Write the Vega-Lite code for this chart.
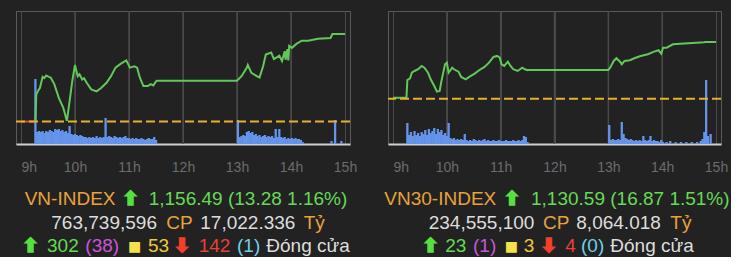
{
"$schema": "https://vega.github.io/schema/vega-lite/v6.json",
"background": "#222222",
"padding": {"left": 14, "top": 10, "right": 0, "bottom": 0},
"bounds": "flush",
"spacing": 38,
"config": {
 "view": {"stroke": "#5a5a5a", "strokeWidth": 1},
 "axisX": {"grid": true, "gridColor": "#4a4a4a", "gridWidth": 1, "ticks": false, "tickSize": 0, "domainColor": "#d0d0d0", "domainWidth": 2, "labelColor": "#6c6c6c", "labelFont": "Liberation Sans", "labelFontSize": 14, "labelPadding": 27, "labelBaseline": "alphabetic"},
 "style": {
  "seg": {"align": "left", "baseline": "alphabetic", "font": "Liberation Sans", "fontSize": 19},
  "arr": {"align": "left", "baseline": "alphabetic", "font": "DejaVu Sans", "fontSize": 19, "fontWeight": "bold", "strokeWidth": 1.6},
  "sq": {"align": "left", "baseline": "alphabetic", "font": "DejaVu Sans", "fontSize": 14}
 }
},
"datasets": {
 "hours": [{"m":60},{"m":120},{"m":180},{"m":240},{"m":300}],
 "vn": [
  {"m":0,"p":1143.21,"seg":"pre"},{"m":16,"p":1143.21,"seg":"pre"},
  {"m":16,"p":1143.3,"seg":"main"},{"m":17,"p":1147.3,"seg":"main"},{"m":19,"p":1147.9,"seg":"main"},{"m":21,"p":1148.3,"seg":"main"},{"m":24,"p":1150.0,"seg":"main"},{"m":26,"p":1149.8,"seg":"main"},{"m":28,"p":1150.2,"seg":"main"},{"m":31,"p":1150.0,"seg":"main"},{"m":33,"p":1149.9,"seg":"main"},{"m":37,"p":1148.9,"seg":"main"},{"m":42,"p":1146.8,"seg":"main"},{"m":47,"p":1145.3,"seg":"main"},{"m":51,"p":1143.3,"seg":"main"},{"m":54,"p":1146.3,"seg":"main"},{"m":57,"p":1149.4,"seg":"main"},{"m":60,"p":1151.8,"seg":"main"},{"m":63,"p":1150.1,"seg":"main"},{"m":65,"p":1150.4,"seg":"main"},{"m":68,"p":1149.6,"seg":"main"},{"m":70,"p":1149.8,"seg":"main"},{"m":73,"p":1149.1,"seg":"main"},{"m":78,"p":1148.1,"seg":"main"},{"m":84,"p":1147.8,"seg":"main"},{"m":89,"p":1148.3,"seg":"main"},{"m":95,"p":1149.1,"seg":"main"},{"m":100,"p":1150.1,"seg":"main"},{"m":105,"p":1151.4,"seg":"main"},{"m":111,"p":1152.0,"seg":"main"},{"m":117,"p":1152.5,"seg":"main"},{"m":121,"p":1151.4,"seg":"main"},{"m":126,"p":1151.6,"seg":"main"},{"m":129,"p":1151.4,"seg":"main"},{"m":132,"p":1149.9,"seg":"main"},{"m":136,"p":1148.6,"seg":"main"},{"m":141,"p":1148.6,"seg":"main"},{"m":144,"p":1148.9,"seg":"main"},{"m":147,"p":1148.7,"seg":"main"},{"m":150,"p":1149.3,"seg":"main"},{"m":151,"p":1149.4,"seg":"main"},{"m":240,"p":1149.4,"seg":"main"},{"m":245,"p":1150.1,"seg":"main"},{"m":251,"p":1151.4,"seg":"main"},{"m":252,"p":1151.8,"seg":"main"},{"m":256,"p":1150.6,"seg":"main"},{"m":262,"p":1150.1,"seg":"main"},{"m":265,"p":1149.9,"seg":"main"},{"m":269,"p":1151.6,"seg":"main"},{"m":272,"p":1153.4,"seg":"main"},{"m":278,"p":1153.7,"seg":"main"},{"m":281,"p":1152.7,"seg":"main"},{"m":287,"p":1153.2,"seg":"main"},{"m":290,"p":1152.4,"seg":"main"},{"m":293,"p":1153.9,"seg":"main"},{"m":294,"p":1152.6,"seg":"main"},{"m":296,"p":1154.2,"seg":"main"},{"m":297,"p":1152.5,"seg":"main"},{"m":298,"p":1154.7,"seg":"main"},{"m":301,"p":1154.4,"seg":"main"},{"m":306,"p":1155.0,"seg":"main"},{"m":312,"p":1155.5,"seg":"main"},{"m":319,"p":1155.5,"seg":"main"},{"m":330,"p":1155.8,"seg":"main"},{"m":344,"p":1155.9,"seg":"main"},{"m":346,"p":1156.49,"seg":"main"},{"m":360,"p":1156.49,"seg":"main"}
 ],
 "vn30": [
  {"m":0,"p":1114.02,"seg":"main"},{"m":15,"p":1114.02,"seg":"main"},{"m":16,"p":1119.29,"seg":"main"},{"m":19,"p":1119.79,"seg":"main"},{"m":21,"p":1121.46,"seg":"main"},{"m":24,"p":1121.96,"seg":"main"},{"m":28,"p":1122.47,"seg":"main"},{"m":32,"p":1123.45,"seg":"main"},{"m":35,"p":1122.95,"seg":"main"},{"m":39,"p":1121.46,"seg":"main"},{"m":42,"p":1119.49,"seg":"main"},{"m":46,"p":1117.5,"seg":"main"},{"m":49,"p":1115.8,"seg":"main"},{"m":52,"p":1116.01,"seg":"main"},{"m":54,"p":1118.99,"seg":"main"},{"m":56,"p":1121.46,"seg":"main"},{"m":58,"p":1123.96,"seg":"main"},{"m":60,"p":1124.43,"seg":"main"},{"m":62,"p":1121.46,"seg":"main"},{"m":64,"p":1122.17,"seg":"main"},{"m":66,"p":1122.95,"seg":"main"},{"m":68,"p":1122.47,"seg":"main"},{"m":73,"p":1121.76,"seg":"main"},{"m":76,"p":1120.18,"seg":"main"},{"m":81,"p":1119.49,"seg":"main"},{"m":85,"p":1120.18,"seg":"main"},{"m":91,"p":1121.16,"seg":"main"},{"m":96,"p":1122.17,"seg":"main"},{"m":102,"p":1123.15,"seg":"main"},{"m":107,"p":1124.43,"seg":"main"},{"m":112,"p":1126.13,"seg":"main"},{"m":116,"p":1126.43,"seg":"main"},{"m":119,"p":1125.92,"seg":"main"},{"m":121,"p":1123.96,"seg":"main"},{"m":124,"p":1123.45,"seg":"main"},{"m":128,"p":1124.73,"seg":"main"},{"m":131,"p":1123.45,"seg":"main"},{"m":134,"p":1122.47,"seg":"main"},{"m":139,"p":1121.96,"seg":"main"},{"m":144,"p":1122.95,"seg":"main"},{"m":147,"p":1122.47,"seg":"main"},{"m":150,"p":1122.17,"seg":"main"},{"m":151,"p":1122.26,"seg":"main"},{"m":240,"p":1122.26,"seg":"main"},{"m":242,"p":1122.95,"seg":"main"},{"m":246,"p":1124.94,"seg":"main"},{"m":249,"p":1125.74,"seg":"main"},{"m":253,"p":1124.73,"seg":"main"},{"m":255,"p":1123.96,"seg":"main"},{"m":258,"p":1124.94,"seg":"main"},{"m":264,"p":1125.15,"seg":"main"},{"m":269,"p":1125.74,"seg":"main"},{"m":276,"p":1126.43,"seg":"main"},{"m":284,"p":1126.93,"seg":"main"},{"m":291,"p":1127.71,"seg":"main"},{"m":296,"p":1128.12,"seg":"main"},{"m":299,"p":1127.11,"seg":"main"},{"m":301,"p":1128.9,"seg":"main"},{"m":305,"p":1128.9,"seg":"main"},{"m":312,"p":1129.91,"seg":"main"},{"m":320,"p":1130.09,"seg":"main"},{"m":334,"p":1130.3,"seg":"main"},{"m":347,"p":1130.51,"seg":"main"},{"m":348,"p":1130.59,"seg":"main"},{"m":360,"p":1130.59,"seg":"main"}
 ],
 "vol_vn": [
  {"m":16,"vol":19.5},{"m":18,"vol":3.6},{"m":20,"vol":3.9},{"m":22,"vol":3.6},{"m":24,"vol":3.9},{"m":26,"vol":3.3},{"m":28,"vol":3.9},{"m":30,"vol":3.6},{"m":32,"vol":4.2},{"m":34,"vol":3.9},{"m":36,"vol":3.6},{"m":38,"vol":4.5},{"m":40,"vol":4.2},{"m":42,"vol":4.5},{"m":44,"vol":3.9},{"m":46,"vol":4.2},{"m":48,"vol":3.6},{"m":50,"vol":3.9},{"m":52,"vol":3.3},{"m":54,"vol":5.4},{"m":56,"vol":3.0},{"m":58,"vol":2.7},{"m":60,"vol":3.0},{"m":62,"vol":2.7},{"m":64,"vol":2.4},{"m":66,"vol":2.7},{"m":68,"vol":2.4},{"m":70,"vol":2.1},{"m":72,"vol":2.1},{"m":74,"vol":1.8},{"m":76,"vol":2.1},{"m":78,"vol":1.8},{"m":80,"vol":2.1},{"m":82,"vol":1.8},{"m":84,"vol":2.4},{"m":86,"vol":1.8},{"m":88,"vol":2.1},{"m":90,"vol":1.8},{"m":92,"vol":2.1},{"m":94,"vol":7.8},{"m":96,"vol":2.1},{"m":98,"vol":2.4},{"m":100,"vol":2.1},{"m":102,"vol":1.8},{"m":104,"vol":2.4},{"m":106,"vol":2.1},{"m":108,"vol":1.8},{"m":110,"vol":2.1},{"m":112,"vol":1.8},{"m":114,"vol":2.1},{"m":116,"vol":2.4},{"m":118,"vol":1.8},{"m":120,"vol":1.8},{"m":122,"vol":1.5},{"m":124,"vol":1.8},{"m":126,"vol":1.5},{"m":128,"vol":1.8},{"m":130,"vol":1.5},{"m":132,"vol":1.5},{"m":134,"vol":1.8},{"m":136,"vol":1.5},{"m":138,"vol":1.2},{"m":140,"vol":1.5},{"m":142,"vol":1.8},{"m":144,"vol":1.5},{"m":146,"vol":1.5},{"m":148,"vol":2.1},{"m":150,"vol":1.2},
  {"m":241,"vol":7.2},{"m":243,"vol":2.1},{"m":245,"vol":2.4},{"m":247,"vol":2.7},{"m":249,"vol":2.4},{"m":251,"vol":3.6},{"m":253,"vol":3.9},{"m":255,"vol":3.3},{"m":257,"vol":3.6},{"m":259,"vol":2.7},{"m":261,"vol":3.0},{"m":263,"vol":2.4},{"m":265,"vol":2.7},{"m":267,"vol":2.1},{"m":269,"vol":2.4},{"m":271,"vol":2.7},{"m":273,"vol":2.1},{"m":275,"vol":2.4},{"m":277,"vol":2.1},{"m":279,"vol":2.4},{"m":281,"vol":1.8},{"m":283,"vol":4.5},{"m":285,"vol":2.1},{"m":287,"vol":4.5},{"m":289,"vol":2.1},{"m":291,"vol":1.8},{"m":293,"vol":2.1},{"m":295,"vol":1.5},{"m":297,"vol":1.8},{"m":299,"vol":1.5},{"m":301,"vol":1.8},{"m":303,"vol":1.5},{"m":305,"vol":1.8},{"m":307,"vol":1.5},{"m":309,"vol":1.5},{"m":311,"vol":1.2},{"m":313,"vol":0.6},{"m":345,"vol":0.9},{"m":349,"vol":7.2},{"m":356,"vol":0.9}
 ],
 "vol_vn30": [
  {"m":16,"vol":2.1},{"m":18,"vol":0.9},{"m":20,"vol":1.2},{"m":22,"vol":0.8},{"m":24,"vol":1.3},{"m":26,"vol":0.9},{"m":28,"vol":1.1},{"m":30,"vol":0.8},{"m":32,"vol":1.2},{"m":34,"vol":1.0},{"m":36,"vol":1.4},{"m":38,"vol":0.9},{"m":40,"vol":1.5},{"m":42,"vol":1.1},{"m":44,"vol":1.3},{"m":46,"vol":1.6},{"m":48,"vol":1.0},{"m":50,"vol":1.5},{"m":52,"vol":1.2},{"m":54,"vol":1.4},{"m":56,"vol":0.9},{"m":58,"vol":1.1},{"m":60,"vol":0.8},{"m":62,"vol":2.1},{"m":64,"vol":0.6},{"m":66,"vol":0.5},{"m":68,"vol":0.6},{"m":70,"vol":0.4},{"m":72,"vol":0.5},{"m":74,"vol":0.4},{"m":76,"vol":0.5},{"m":78,"vol":0.4},{"m":80,"vol":1.0},{"m":82,"vol":0.4},{"m":84,"vol":0.3},{"m":86,"vol":0.4},{"m":88,"vol":0.3},{"m":90,"vol":0.5},{"m":92,"vol":0.4},{"m":94,"vol":0.3},{"m":96,"vol":0.4},{"m":98,"vol":0.3},{"m":100,"vol":0.4},{"m":102,"vol":0.5},{"m":104,"vol":0.3},{"m":106,"vol":0.4},{"m":108,"vol":0.3},{"m":110,"vol":0.3},{"m":112,"vol":0.4},{"m":114,"vol":0.3},{"m":116,"vol":0.3},{"m":118,"vol":0.4},{"m":120,"vol":0.3},{"m":122,"vol":0.3},{"m":124,"vol":0.3},{"m":126,"vol":0.4},{"m":128,"vol":0.3},{"m":130,"vol":0.3},{"m":132,"vol":0.3},{"m":134,"vol":0.4},{"m":136,"vol":0.3},{"m":138,"vol":0.3},{"m":140,"vol":0.4},{"m":142,"vol":0.3},{"m":144,"vol":0.4},{"m":146,"vol":0.8},{"m":148,"vol":0.7},{"m":150,"vol":0.2},
  {"m":241,"vol":1.9},{"m":243,"vol":0.4},{"m":245,"vol":0.5},{"m":247,"vol":0.4},{"m":249,"vol":0.4},{"m":251,"vol":0.5},{"m":253,"vol":0.4},{"m":255,"vol":2.2},{"m":257,"vol":1.0},{"m":259,"vol":0.6},{"m":261,"vol":0.5},{"m":263,"vol":0.4},{"m":265,"vol":0.5},{"m":267,"vol":0.4},{"m":269,"vol":0.3},{"m":271,"vol":0.4},{"m":273,"vol":0.3},{"m":275,"vol":0.4},{"m":277,"vol":0.3},{"m":279,"vol":0.8},{"m":281,"vol":0.4},{"m":283,"vol":0.3},{"m":285,"vol":0.4},{"m":287,"vol":0.8},{"m":289,"vol":0.3},{"m":291,"vol":0.4},{"m":293,"vol":0.3},{"m":295,"vol":0.3},{"m":297,"vol":0.2},{"m":299,"vol":0.4},{"m":301,"vol":0.2},{"m":305,"vol":0.2},{"m":309,"vol":0.3},{"m":315,"vol":0.2},{"m":321,"vol":0.2},{"m":327,"vol":0.2},{"m":333,"vol":0.2},{"m":339,"vol":0.2},{"m":343,"vol":0.3},{"m":345,"vol":0.5},{"m":347,"vol":1.2},{"m":349,"vol":6.4},{"m":351,"vol":0.8},{"m":354,"vol":1.0}
 ],
 "ref": [{"idx":"VN-INDEX","p":1143.21},{"idx":"VN30-INDEX","p":1113.72}],
 "txt": [
  {"id":"a1","text":"VN-INDEX"},{"id":"a2","text":"⬆"},{"id":"a3","text":"1,156.49 (13.28 1.16%)"},{"id":"a4","text":"763,739,596"},{"id":"a5","text":"CP"},{"id":"a6","text":"17,022.336"},{"id":"a7","text":"Tỷ"},{"id":"a8","text":"⬆"},{"id":"a9","text":"302"},{"id":"a10","text":"(38)"},{"id":"a11","text":"■"},{"id":"a12","text":"53"},{"id":"a13","text":"⬇"},{"id":"a14","text":"142"},{"id":"a15","text":"(1)"},{"id":"a16","text":"Đóng cửa"},
  {"id":"b1","text":"VN30-INDEX"},{"id":"b2","text":"⬆"},{"id":"b3","text":"1,130.59 (16.87 1.51%)"},{"id":"b4","text":"234,555,100"},{"id":"b5","text":"CP"},{"id":"b6","text":"8,064.018"},{"id":"b7","text":"Tỷ"},{"id":"b8","text":"⬆"},{"id":"b9","text":"23"},{"id":"b10","text":"(1)"},{"id":"b11","text":"■"},{"id":"b12","text":"3"},{"id":"b13","text":"⬇"},{"id":"b14","text":"4"},{"id":"b15","text":"(0)"},{"id":"b16","text":"Đóng cửa"}
 ]
},
"hconcat": [
 {
  "width": 334, "height": 133,
  "resolve": {"scale": {"y": "independent"}},
  "layer": [
   {"data": {"name": "hours"}, "mark": {"type": "tick", "orient": "vertical", "size": 133, "thickness": 1.5, "color": "#4a4a4a", "opacity": 1},
    "encoding": {"x": {"field": "m", "type": "quantitative", "scale": {"domain": [0, 360]}, "axis": {"grid": true, "gridColor": "#4a4a4a", "values": [0,60,120,180,240,300,360], "labelExpr": "(datum.value/60+9)+'h'", "title": null, "labelAlign": {"condition": {"test": "datum.value == 0", "value": "left"}, "value": "center"}}}}},
   {"data": {"name": "vol_vn"}, "mark": {"type": "bar", "width": 2.3, "color": "#6495ED"},
    "encoding": {"x": {"field": "m", "type": "quantitative", "scale": {"domain": [0, 360]}},
     "y": {"field": "vol", "type": "quantitative", "scale": {"domain": [0, 39.9]}, "axis": null}}},
   {"data": {"name": "vn"}, "mark": {"type": "line", "strokeWidth": 2},
    "encoding": {"x": {"field": "m", "type": "quantitative", "scale": {"domain": [0, 360]}},
     "y": {"field": "p", "type": "quantitative", "scale": {"domain": [1139.8, 1160], "zero": false}, "axis": null},
     "color": {"field": "seg", "type": "nominal", "scale": {"domain": ["pre", "main"], "range": ["#C9503A", "#62C85A"]}, "legend": null}}},
   {"data": {"name": "ref"}, "transform": [{"filter": "datum.idx == 'VN-INDEX'"}], "mark": {"type": "rule", "color": "#E5B02E", "strokeWidth": 2, "strokeDash": [9, 4]},
    "encoding": {"y": {"field": "p", "type": "quantitative", "scale": {"domain": [1139.8, 1160], "zero": false}, "axis": null}}},
   {"data": {"name": "txt"}, "transform": [{"filter": "datum.id=='a1'"}], "mark": {"type": "text", "style": "seg", "color": "#E9A23B"}, "encoding": {"x": {"value": 8.7}, "y": {"value": 194.3}, "text": {"field": "text"}}},
   {"data": {"name": "txt"}, "transform": [{"filter": "datum.id=='a2'"}], "mark": {"type": "text", "style": "arr", "color": "#55E040", "stroke": "#55E040"}, "encoding": {"x": {"value": 106.7}, "y": {"value": 194.3}, "text": {"field": "text"}}},
   {"data": {"name": "txt"}, "transform": [{"filter": "datum.id=='a3'"}], "mark": {"type": "text", "style": "seg", "color": "#66DA55"}, "encoding": {"x": {"value": 132.7}, "y": {"value": 194.3}, "text": {"field": "text"}}},
   {"data": {"name": "txt"}, "transform": [{"filter": "datum.id=='a4'"}], "mark": {"type": "text", "style": "seg", "color": "#DDDDDD"}, "encoding": {"x": {"value": 35.3}, "y": {"value": 217.7}, "text": {"field": "text"}}},
   {"data": {"name": "txt"}, "transform": [{"filter": "datum.id=='a5'"}], "mark": {"type": "text", "style": "seg", "color": "#E9A23B"}, "encoding": {"x": {"value": 150.3}, "y": {"value": 217.7}, "text": {"field": "text"}}},
   {"data": {"name": "txt"}, "transform": [{"filter": "datum.id=='a6'"}], "mark": {"type": "text", "style": "seg", "color": "#DDDDDD"}, "encoding": {"x": {"value": 184.3}, "y": {"value": 217.7}, "text": {"field": "text"}}},
   {"data": {"name": "txt"}, "transform": [{"filter": "datum.id=='a7'"}], "mark": {"type": "text", "style": "seg", "color": "#E9A23B"}, "encoding": {"x": {"value": 287.7}, "y": {"value": 217.7}, "text": {"field": "text"}}},
   {"data": {"name": "txt"}, "transform": [{"filter": "datum.id=='a8'"}], "mark": {"type": "text", "style": "arr", "color": "#55E040", "stroke": "#55E040"}, "encoding": {"x": {"value": 6.7}, "y": {"value": 241}, "text": {"field": "text"}}},
   {"data": {"name": "txt"}, "transform": [{"filter": "datum.id=='a9'"}], "mark": {"type": "text", "style": "seg", "color": "#66DA55"}, "encoding": {"x": {"value": 31}, "y": {"value": 241}, "text": {"field": "text"}}},
   {"data": {"name": "txt"}, "transform": [{"filter": "datum.id=='a10'"}], "mark": {"type": "text", "style": "seg", "color": "#CC55DD"}, "encoding": {"x": {"value": 69.3}, "y": {"value": 241}, "text": {"field": "text"}}},
   {"data": {"name": "txt"}, "transform": [{"filter": "datum.id=='a11'"}], "mark": {"type": "text", "style": "sq", "color": "#F5E14A"}, "encoding": {"x": {"value": 112}, "y": {"value": 240}, "text": {"field": "text"}}},
   {"data": {"name": "txt"}, "transform": [{"filter": "datum.id=='a12'"}], "mark": {"type": "text", "style": "seg", "color": "#F0C93A"}, "encoding": {"x": {"value": 132}, "y": {"value": 241}, "text": {"field": "text"}}},
   {"data": {"name": "txt"}, "transform": [{"filter": "datum.id=='a13'"}], "mark": {"type": "text", "style": "arr", "color": "#F0402A", "stroke": "#F0402A"}, "encoding": {"x": {"value": 158.3}, "y": {"value": 241}, "text": {"field": "text"}}},
   {"data": {"name": "txt"}, "transform": [{"filter": "datum.id=='a14'"}], "mark": {"type": "text", "style": "seg", "color": "#E8403A"}, "encoding": {"x": {"value": 182.7}, "y": {"value": 241}, "text": {"field": "text"}}},
   {"data": {"name": "txt"}, "transform": [{"filter": "datum.id=='a15'"}], "mark": {"type": "text", "style": "seg", "color": "#6FD0E8"}, "encoding": {"x": {"value": 221}, "y": {"value": 241}, "text": {"field": "text"}}},
   {"data": {"name": "txt"}, "transform": [{"filter": "datum.id=='a16'"}], "mark": {"type": "text", "style": "seg", "color": "#DDDDDD"}, "encoding": {"x": {"value": 250.3}, "y": {"value": 241}, "text": {"field": "text"}}}
  ]
 },
 {
  "width": 333, "height": 133,
  "resolve": {"scale": {"y": "independent"}},
  "layer": [
   {"data": {"name": "hours"}, "mark": {"type": "tick", "orient": "vertical", "size": 133, "thickness": 1.5, "color": "#4a4a4a", "opacity": 1},
    "encoding": {"x": {"field": "m", "type": "quantitative", "scale": {"domain": [0, 360]}, "axis": {"grid": true, "gridColor": "#4a4a4a", "values": [0,60,120,180,240,300,360], "labelExpr": "(datum.value/60+9)+'h'", "title": null, "labelAlign": {"condition": {"test": "datum.value == 0", "value": "left"}, "value": "center"}}}}},
   {"data": {"name": "vol_vn30"}, "mark": {"type": "bar", "width": 2.3, "color": "#6495ED"},
    "encoding": {"x": {"field": "m", "type": "quantitative", "scale": {"domain": [0, 360]}},
     "y": {"field": "vol", "type": "quantitative", "scale": {"domain": [0, 13.3]}, "axis": null}}},
   {"data": {"name": "vn30"}, "mark": {"type": "line", "strokeWidth": 2},
    "encoding": {"x": {"field": "m", "type": "quantitative", "scale": {"domain": [0, 360]}},
     "y": {"field": "p", "type": "quantitative", "scale": {"domain": [1100.24, 1139.8], "zero": false}, "axis": null},
     "color": {"field": "seg", "type": "nominal", "scale": {"domain": ["pre", "main"], "range": ["#C9503A", "#62C85A"]}, "legend": null}}},
   {"data": {"name": "ref"}, "transform": [{"filter": "datum.idx == 'VN30-INDEX'"}], "mark": {"type": "rule", "color": "#E5B02E", "strokeWidth": 2, "strokeDash": [9, 4]},
    "encoding": {"y": {"field": "p", "type": "quantitative", "scale": {"domain": [1100.24, 1139.8], "zero": false}, "axis": null}}},
   {"data": {"name": "txt"}, "transform": [{"filter": "datum.id=='b1'"}], "mark": {"type": "text", "style": "seg", "color": "#E9A23B"}, "encoding": {"x": {"value": -3.7}, "y": {"value": 194.3}, "text": {"field": "text"}}},
   {"data": {"name": "txt"}, "transform": [{"filter": "datum.id=='b2'"}], "mark": {"type": "text", "style": "arr", "color": "#55E040", "stroke": "#55E040"}, "encoding": {"x": {"value": 116.3}, "y": {"value": 194.3}, "text": {"field": "text"}}},
   {"data": {"name": "txt"}, "transform": [{"filter": "datum.id=='b3'"}], "mark": {"type": "text", "style": "seg", "color": "#66DA55"}, "encoding": {"x": {"value": 143}, "y": {"value": 194.3}, "text": {"field": "text"}}},
   {"data": {"name": "txt"}, "transform": [{"filter": "datum.id=='b4'"}], "mark": {"type": "text", "style": "seg", "color": "#DDDDDD"}, "encoding": {"x": {"value": 40.7}, "y": {"value": 217.7}, "text": {"field": "text"}}},
   {"data": {"name": "txt"}, "transform": [{"filter": "datum.id=='b5'"}], "mark": {"type": "text", "style": "seg", "color": "#E9A23B"}, "encoding": {"x": {"value": 155}, "y": {"value": 217.7}, "text": {"field": "text"}}},
   {"data": {"name": "txt"}, "transform": [{"filter": "datum.id=='b6'"}], "mark": {"type": "text", "style": "seg", "color": "#DDDDDD"}, "encoding": {"x": {"value": 188.3}, "y": {"value": 217.7}, "text": {"field": "text"}}},
   {"data": {"name": "txt"}, "transform": [{"filter": "datum.id=='b7'"}], "mark": {"type": "text", "style": "seg", "color": "#E9A23B"}, "encoding": {"x": {"value": 282.3}, "y": {"value": 217.7}, "text": {"field": "text"}}},
   {"data": {"name": "txt"}, "transform": [{"filter": "datum.id=='b8'"}], "mark": {"type": "text", "style": "arr", "color": "#55E040", "stroke": "#55E040"}, "encoding": {"x": {"value": 34.7}, "y": {"value": 241}, "text": {"field": "text"}}},
   {"data": {"name": "txt"}, "transform": [{"filter": "datum.id=='b9'"}], "mark": {"type": "text", "style": "seg", "color": "#66DA55"}, "encoding": {"x": {"value": 57.3}, "y": {"value": 241}, "text": {"field": "text"}}},
   {"data": {"name": "txt"}, "transform": [{"filter": "datum.id=='b10'"}], "mark": {"type": "text", "style": "seg", "color": "#CC55DD"}, "encoding": {"x": {"value": 85}, "y": {"value": 241}, "text": {"field": "text"}}},
   {"data": {"name": "txt"}, "transform": [{"filter": "datum.id=='b11'"}], "mark": {"type": "text", "style": "sq", "color": "#F5E14A"}, "encoding": {"x": {"value": 116.7}, "y": {"value": 240}, "text": {"field": "text"}}},
   {"data": {"name": "txt"}, "transform": [{"filter": "datum.id=='b12'"}], "mark": {"type": "text", "style": "seg", "color": "#F0C93A"}, "encoding": {"x": {"value": 135.7}, "y": {"value": 241}, "text": {"field": "text"}}},
   {"data": {"name": "txt"}, "transform": [{"filter": "datum.id=='b13'"}], "mark": {"type": "text", "style": "arr", "color": "#F0402A", "stroke": "#F0402A"}, "encoding": {"x": {"value": 153}, "y": {"value": 241}, "text": {"field": "text"}}},
   {"data": {"name": "txt"}, "transform": [{"filter": "datum.id=='b14'"}], "mark": {"type": "text", "style": "seg", "color": "#E8403A"}, "encoding": {"x": {"value": 177.3}, "y": {"value": 241}, "text": {"field": "text"}}},
   {"data": {"name": "txt"}, "transform": [{"filter": "datum.id=='b15'"}], "mark": {"type": "text", "style": "seg", "color": "#6FD0E8"}, "encoding": {"x": {"value": 193}, "y": {"value": 241}, "text": {"field": "text"}}},
   {"data": {"name": "txt"}, "transform": [{"filter": "datum.id=='b16'"}], "mark": {"type": "text", "style": "seg", "color": "#DDDDDD"}, "encoding": {"x": {"value": 222.3}, "y": {"value": 241}, "text": {"field": "text"}}}
  ]
 }
]
}
